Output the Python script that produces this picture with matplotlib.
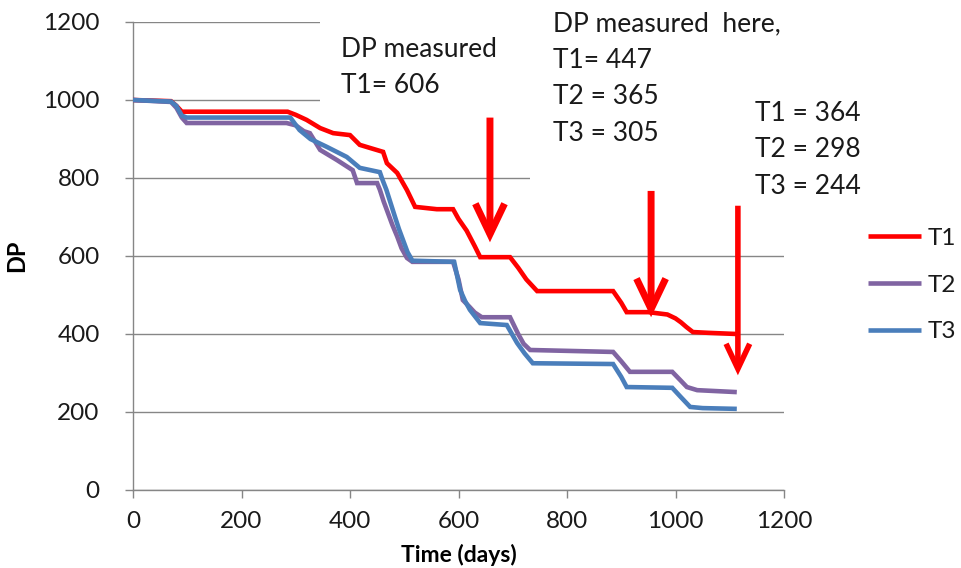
import numpy as np
import matplotlib
matplotlib.use("Agg")
import matplotlib.pyplot as plt
from matplotlib.patches import FancyArrowPatch, Rectangle, ArrowStyle

plt.rcParams['font.family'] = ['Lato', 'DejaVu Sans']

# ── data ────────────────────────────────────────────────────────
t1_days = [0, 70, 80, 90, 285, 300, 320, 345, 369, 400, 418, 437, 461, 468, 487,
           505, 520, 560, 590, 600, 615, 630, 640, 695, 710, 725, 745, 885, 900,
           910, 950, 985, 1000, 1010, 1020, 1032, 1060, 1113]
t1_dp = [1000, 997, 985, 970, 970, 962, 949, 928, 915, 910, 885, 877, 867, 838, 813,
         769, 726, 720, 720, 695, 665, 625, 597, 597, 570, 540, 510, 510, 480,
         456, 456, 450, 440, 430, 418, 405, 403, 400]

t2_days = [0, 70, 80, 90, 99, 283, 300, 315, 326, 345, 376, 405, 413, 450, 455,
           462, 470, 478, 487, 495, 505, 515, 590, 600, 608, 620, 630, 643, 695,
           710, 720, 732, 885, 900, 916, 994, 1010, 1021, 1040, 1113]
t2_dp = [1000, 995, 980, 955, 941, 941, 935, 920, 915, 872, 846, 820, 787, 787, 770,
         740, 710, 680, 650, 620, 595, 585, 585, 540, 487, 470, 455, 443, 443,
         400, 375, 359, 354, 330, 303, 303, 280, 264, 256, 251]

t3_days = [0, 70, 80, 90, 99, 290, 307, 327, 357, 394, 418, 455, 460, 467, 475,
           483, 490, 498, 506, 515, 592, 603, 612, 621, 640, 689, 708, 722, 737,
           885, 900, 910, 994, 1010, 1027, 1050, 1113]
t3_dp = [1000, 996, 985, 960, 955, 955, 923, 900, 880, 854, 826, 815, 795, 770, 735,
         700, 670, 640, 610, 588, 585, 513, 485, 462, 428, 423, 377, 350, 325,
         323, 290, 264, 262, 238, 213, 210, 208]

series_names = ['T1', 'T2', 'T3']
series_colors = ['#FF0000', '#8064A2', '#4A7EBB']

# arrows: day, start DP, tip DP
arrow_days = [658, 955, 1115]
arrow_top = [962, 774, 736]
arrow_tip = [628, 436, 287]

notes = [
    "DP measured\nT1= 606",
    "DP measured  here,",
    "T1= 447\nT2 = 365\nT3 = 305",
    "T1 = 364\nT2 = 298\nT3 = 244",
]
note_pos = [(383, 1162), (774, 1228), (774, 1134), (1147, 998)]

grid_c = '#868686'

fig = plt.figure(figsize=(9.61, 5.68), dpi=100)
ax = fig.add_axes([133/961, 1-490/568, 651/961, 468/568])

ax.set_xlim(0, 1200)
ax.set_ylim(0, 1200)
ax.set_xticks(np.arange(0, 1201, 200))
ax.set_yticks(np.arange(0, 1201, 200))
ax.yaxis.grid(True, color=grid_c, lw=1.0, zorder=0)
ax.set_axisbelow(True)
for s in ['top', 'right']:
    ax.spines[s].set_visible(False)
for s in ['left', 'bottom']:
    ax.spines[s].set_color(grid_c)
    ax.spines[s].set_linewidth(1.0)
ax.tick_params(axis='both', colors=grid_c, labelcolor='#1a1a1a',
               labelsize=17.5, length=6, width=1.0)
ax.tick_params(axis='y', pad=18)
ax.tick_params(axis='x', pad=9)

# white text-box backgrounds that hide gridlines (as in the Excel original)
ax.add_patch(Rectangle((345, 975), 395, 240, facecolor='white',
                       edgecolor='none', zorder=1, clip_on=False))
ax.add_patch(Rectangle((732, 785), 480, 430, facecolor='white',
                       edgecolor='none', zorder=1, clip_on=False))

for d, v, name, c in zip([t1_days, t2_days, t3_days], [t1_dp, t2_dp, t3_dp],
                         series_names, series_colors):
    ax.plot(d, v, color=c, lw=3.3, label=name, zorder=3,
            solid_joinstyle='miter', solid_capstyle='butt')

heads = [(22, 10.5, 5.0), (22, 10.5, 5.0), (18, 8.5, 4.0)]
for x, y0, y1, (hl, hw, lw) in zip(arrow_days, arrow_top, arrow_tip, heads):
    ar = FancyArrowPatch((x, y0), (x, y1),
                         arrowstyle=ArrowStyle('->', head_length=hl, head_width=hw),
                         mutation_scale=1, color='#FF0000', lw=lw, zorder=4,
                         joinstyle='miter', capstyle='butt')
    ax.add_patch(ar)

for txt, (x, y) in zip(notes, note_pos):
    ax.text(x, y, txt, fontsize=19, color='#1a1a1a', ha='left', va='top',
            linespacing=1.57, zorder=5, clip_on=False)

ax.set_ylabel('DP', fontsize=17, fontweight='bold')
ax.yaxis.set_label_coords(-0.161, 0.5)
ax.set_xlabel('Time (days)', fontsize=16.5, fontweight='bold', labelpad=9)

fig.legend(loc='center left', bbox_to_anchor=(868/961, 1-285/568),
           frameon=False, fontsize=17.5, borderpad=0, borderaxespad=0,
           handlelength=2.2, handletextpad=0.25, labelspacing=1.05,
           labelcolor='#1a1a1a')

fig.savefig('out.png', dpi=100, facecolor='white')
